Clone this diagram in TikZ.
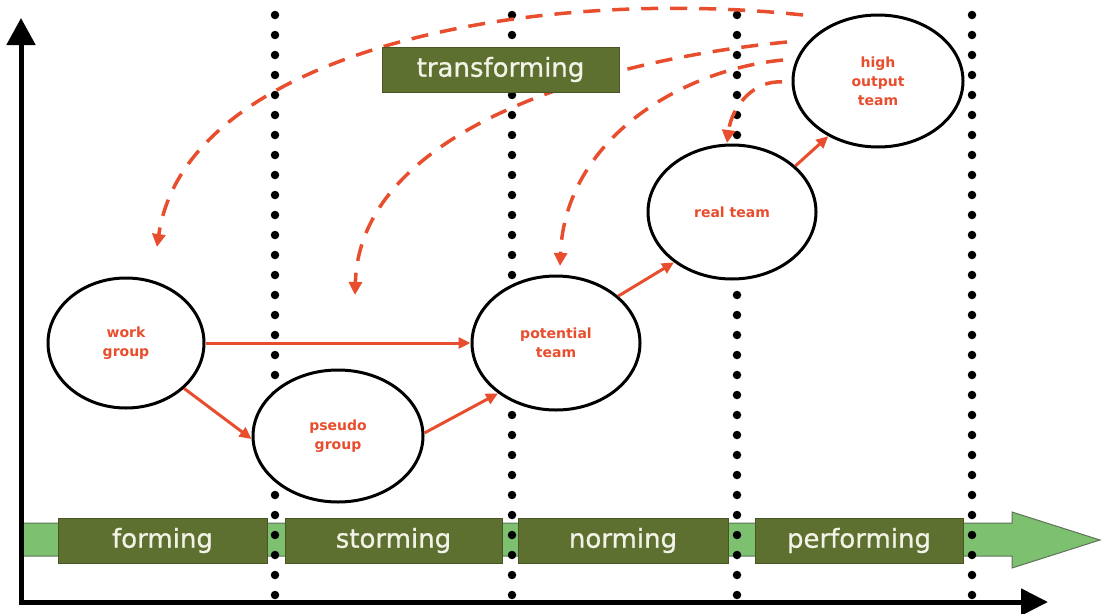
\documentclass[tikz,border=0pt]{standalone}
\usepackage{fontspec}
\setmainfont{DejaVu Sans}
\newfontfamily\phasefont[FakeBold=0.8]{DejaVu Sans}
\usetikzlibrary{arrows.meta,shapes.geometric}

\definecolor{bandgreen}{RGB}{124,192,112}
\definecolor{bandedge}{RGB}{95,115,90}
\definecolor{olive}{RGB}{93,112,48}
\definecolor{oliveedge}{RGB}{72,86,38}
\definecolor{labelcream}{RGB}{242,242,230}
\definecolor{flowred}{RGB}{232,78,45}

\begin{document}
\begin{tikzpicture}[x=1pt,y=-1pt,
  phase/.style={rectangle, fill=olive, draw=oliveedge, line width=1pt,
    minimum height=45pt, inner sep=0pt, text=labelcream,
    font=\phasefont\fontsize{26}{30}\selectfont},
  stage/.style={ellipse, draw=black, line width=3pt, fill=white,
    inner sep=0pt, align=center, text=flowred,
    font=\fontsize{14}{19}\selectfont\bfseries},
  flow/.style={draw=flowred, line width=3pt,
    -{Triangle[length=12pt,width=11pt]}},
  feedback/.style={draw=flowred, line width=3.5pt,
    dash pattern=on 17pt off 12pt,
    -{Triangle[length=13pt,width=13pt]}},
  divider/.style={line width=8.5pt, line cap=round,
    dash pattern=on 0pt off 20pt},
  axis/.style={line width=5pt, line join=miter}
]
\path[use as bounding box] (0,0) rectangle (1102,613);

% time band with the four phases
\filldraw[fill=bandgreen, draw=bandedge, line width=1pt]
  (22,523) -- (1012,523) -- (1012,512) -- (1100,540)
  -- (1012,568) -- (1012,556) -- (22,556) -- cycle;
\node[phase, minimum width=209pt] (forming)    at (162.5,540.5) {forming};
\node[phase, minimum width=217pt] (storming)   at (393.5,540.5) {storming};
\node[phase, minimum width=210pt] (norming)    at (623,540.5)   {norming};
\node[phase, minimum width=208pt] (performing) at (859,540.5)   {performing};

% phase boundaries
\foreach \x in {275,512,737,972}
  \draw[divider] (\x,15) -- (\x,600);

% feedback loops of the transformation
\coordinate (fbA0) at (803,15);  \coordinate (fbA1) at (157,247);
\coordinate (fbB0) at (787,42);  \coordinate (fbB1) at (355,295);
\coordinate (fbC0) at (783,60);  \coordinate (fbC1) at (560,266);
\coordinate (fbD0) at (782,82);  \coordinate (fbD1) at (727,143);
\draw[feedback] (fbA0) .. controls (520,-15) and (185,55)  .. (fbA1);
\draw[feedback] (fbB0) .. controls (600,60)  and (360,130) .. (fbB1);
\draw[feedback] (fbC0) .. controls (680,70)  and (565,140) .. (fbC1);
\draw[feedback] (fbD0) .. controls (755,80)  and (732,105) .. (fbD1);

\node[phase, minimum width=237pt] (transforming) at (500.5,69.5) {transforming};

% team stages
\node[stage, minimum width=156pt, minimum height=130pt] (wg) at (126,343) {work\\group};
\node[stage, minimum width=170pt, minimum height=132pt] (pg) at (338,436) {pseudo\\group};
\node[stage, minimum width=168pt, minimum height=134pt] (pt) at (556,343) {potential\\team};
\node[stage, minimum width=168pt, minimum height=134pt] (rt) at (732,212) {real team};
\node[stage, minimum width=170pt, minimum height=132pt] (ho) at (878,81)  {high\\output\\team};

\draw[flow] (wg.east) -- (pt.west);
\draw[flow] (wg.-38)  -- (pg.182);
\draw[flow] (pg.2)    -- (pt.221);
\draw[flow] (pt.37)   -- (rt.221);
\draw[flow] (rt.36)   -- (ho.228);

% axes
\coordinate (origin) at (21,602);
\coordinate (ytip) at (21,18);
\coordinate (xtip) at (1048,602);
\draw[axis, {Triangle[length=27pt,width=28pt]}-{Triangle[length=27pt,width=26pt]}]
  (ytip) -- (origin) -- (xtip);
\end{tikzpicture}
\end{document}
